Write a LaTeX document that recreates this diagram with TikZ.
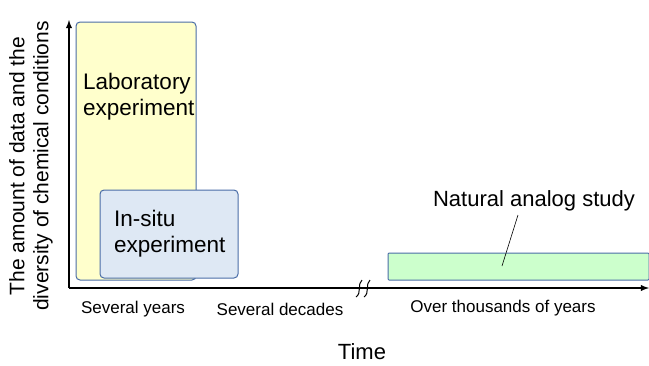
\documentclass[tikz,border=0pt]{standalone}
\usepackage{fontspec}
\setmainfont{Liberation Sans}
\usetikzlibrary{arrows}
\definecolor{labfill}{HTML}{FFFFCC}
\definecolor{situfill}{HTML}{DEE8F4}
\definecolor{natfill}{HTML}{CCFFCC}
\definecolor{boxline}{HTML}{4A6DA7}
\tikzset{
  studybox/.style={draw=boxline, line width=1pt, rounded corners=4pt},
  ticklabel/.style={font=\fontsize{17}{20}\selectfont, inner sep=0pt},
  boxlabel/.style={font=\fontsize{22.5}{26}\selectfont, align=left, inner sep=0pt, anchor=west},
}
\begin{document}
\begin{tikzpicture}[x=1pt,y=-1pt]
    \useasboundingbox (0,0) rectangle (649,365);
    % boxes
    \draw[studybox, fill=labfill] (76,22) rectangle (196,280);
    \draw[studybox, fill=situfill] (100,190) rectangle (238,278);
    \draw[studybox, fill=natfill, rounded corners=1pt] (388,253) rectangle (649,280);

    % axes
    \coordinate (origin) at (69,288);
    \coordinate (ytop) at (69,20);
    \coordinate (xend) at (649,288);
    \draw[-latex, line width=1.8pt] (origin)--(ytop);
    \draw[-latex, line width=1.8pt] (origin)--(xend);

    % break marks
    \foreach \x in {358,366} \draw[line width=1pt] (\x+4,280) .. controls (\x-1,284) and (\x+4,293) .. (\x-2,297);

    \node[boxlabel] (lab) at (83,97) {Laboratory\\experiment};
    \node[boxlabel] (situ) at (114,234) {In-situ\\experiment};
    \node[font=\fontsize{22}{26}\selectfont, inner sep=0pt] (nat) at (534,201) {Natural analog study};
    \coordinate (natbox) at (502,266);
    \draw[line width=.6pt] (518,215) -- (natbox);

    \node[ticklabel] (years) at (133,309) {Several years};
    \node[ticklabel] (decades) at (280,309) {Several decades};
    \node[ticklabel] (thousands) at (503,308) {Over thousands of years};

    \node[font=\fontsize{22}{26}\selectfont, inner sep=0pt] (time) at (362,352) {Time};
    \node[font=\fontsize{21}{24}\selectfont, inner sep=0pt, align=center, rotate=90] (ylab) at (31,166) {The amount of data and the\\diversity of chemical conditions};
\end{tikzpicture}
\end{document}
